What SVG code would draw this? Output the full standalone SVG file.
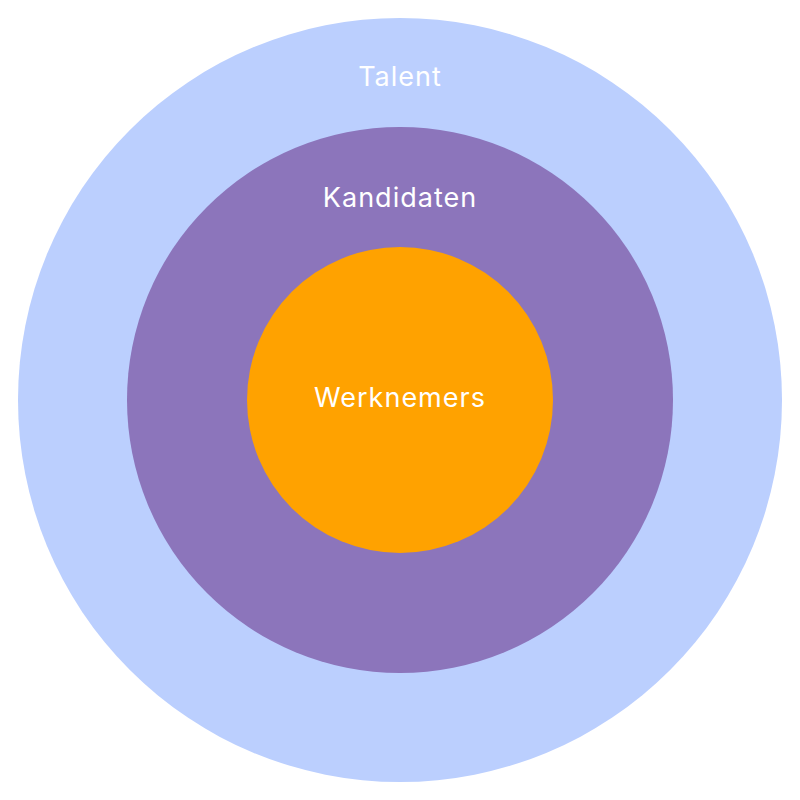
<svg xmlns="http://www.w3.org/2000/svg" width="800" height="800" viewBox="0 0 800 800">
<style>text{font-family:"Inter","Liberation Sans",sans-serif;fill:#fff;text-anchor:middle;font-size:27px;letter-spacing:1px}</style>
<rect width="800" height="800" fill="#fff"/>
<g id="talent"><circle cx="400" cy="400" r="382" fill="#bbcffe"/><text x="400" y="86">Talent</text></g>
<g id="kandidaten"><circle cx="400" cy="400" r="273" fill="#8c75bb"/><text x="400" y="207">Kandidaten</text></g>
<g id="werknemers"><circle cx="400" cy="400" r="153" fill="#ffa200"/><text x="400" y="407">Werknemers</text></g>
<g id="connectors"/>
</svg>
